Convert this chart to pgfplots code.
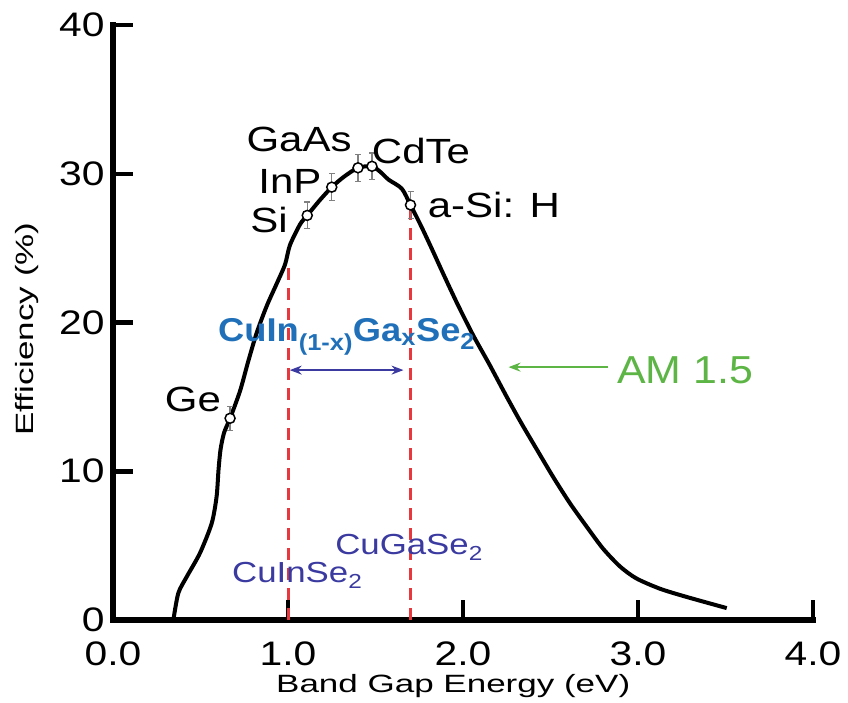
\documentclass[border=0pt]{standalone}
\usepackage{fontspec}
\setmainfont{Liberation Sans}
\newfontfamily\tickfont[FakeStretch=1.2]{Liberation Sans}
\newfontfamily\labfont[FakeStretch=1.4]{Liberation Sans}
\newfontfamily\amfont[FakeStretch=1.1]{Liberation Sans}
\usepackage{pgfplots}
\pgfplotsset{compat=1.18}
\usetikzlibrary{arrows.meta}
\definecolor{cigsblue}{HTML}{1F70B8}
\definecolor{cuindigo}{HTML}{3A3AA0}
\definecolor{amgreen}{HTML}{5DB546}
\definecolor{dashred}{HTML}{E8383D}

\begin{document}
\begin{tikzpicture}
\useasboundingbox (0,0) rectangle (848pt,702pt);
\begin{axis}[
  at={(113pt,82pt)}, anchor=south west,
  scale only axis, width=700pt, height=595pt,
  xmin=0, xmax=4, ymin=0, ymax=40,
  clip=false,
  axis lines*=left,
  axis line style={line width=6pt, line cap=rect},
  tick align=inside,
  major tick length=20pt,
  tick style={line width=4.5pt, black},
  xtick={0,1,2,3,4},
  ytick={0,10,20,30,40},
  /pgf/number format/assume math mode=true,
  tick label style={font=\tickfont\fontsize{34}{36}\selectfont},
  xticklabel style={/pgf/number format/fixed, /pgf/number format/fixed zerofill, /pgf/number format/precision=1, yshift=-18pt},
  yticklabel style={xshift=-5pt},
  xlabel={Band Gap Energy (eV)},
  ylabel={Efficiency (\%)},
  label style={font=\labfont\fontsize{25}{28}\selectfont},
  xlabel style={at={(axis description cs:0.486,0)}, anchor=base, yshift=-72pt},
  ylabel style={at={(axis description cs:-0.114,0.489)}, anchor=base, rotate=0},
]
% red dashed lines
\addplot[dashred, line width=3pt, dash pattern=on 12pt off 8pt] coordinates {(1.0,0) (1.0,23.9)};
\addplot[dashred, line width=3pt, dash pattern=on 12pt off 8pt] coordinates {(1.7,0) (1.7,27.9)};
% efficiency curve
\addplot[black, line width=4pt, smooth, tension=0.45] coordinates {
(0.345,0) (0.373,1.8) (0.421,2.9) (0.497,4.5) (0.564,6.5) (0.592,8.3)
(0.603,10.1) (0.615,11.5) (0.635,12.6) (0.669,13.56) (0.726,15.4)
(0.773,17.4) (0.821,19.3) (0.878,21.1) (0.935,22.6) (0.983,23.9)
(1.011,25.2) (1.069,26.6) (1.11,27.2) (1.18,28.2) (1.25,29.1) (1.32,29.8)
(1.40,30.4) (1.48,30.5) (1.53,30.1) (1.575,29.6) (1.65,29.0) (1.70,27.9)
(1.76,26.5) (1.82,25.0) (1.89,23.2) (1.97,21.2) (2.06,19.1) (2.15,17.2)
(2.25,15.0) (2.33,13.3) (2.42,11.5) (2.516,9.6) (2.611,7.85) (2.707,6.27)
(2.80,4.8) (2.897,3.6) (2.99,2.8) (3.126,2.1) (3.278,1.55) (3.507,0.8)};
% material points
\addplot[only marks, mark=*, mark size=5pt,
  mark options={fill=white, draw=black, line width=1.5pt},
  error bars/.cd, y dir=both, y explicit,
  error bar style={gray, line width=1.2pt},
  error mark options={gray, line width=1.2pt, mark size=3pt, rotate=90}]
  coordinates {
  (0.669,13.56) +- (0,0.8)
  (1.11,27.2) +- (0,0.9)
  (1.25,29.1) +- (0,0.9)
  (1.40,30.4) +- (0,0.9)
  (1.48,30.5) +- (0,0.9)
  (1.70,27.9) +- (0,0.9)};
% blue double arrow
\addplot[cuindigo, line width=1.6pt, {Stealth[length=12pt,width=9pt]}-{Stealth[length=12pt,width=9pt]}]
  coordinates {(1.01,16.8) (1.66,16.8)};
% green arrow
\addplot[amgreen, line width=2pt, -{Stealth[length=12pt,width=9pt]}]
  coordinates {(2.83,17.0) (2.26,17.0)};
% labels
\node[font=\tickfont\fontsize{35}{38}\selectfont] at (axis cs:0.457,14.86) {Ge};
\node[font=\tickfont\fontsize{35}{38}\selectfont] at (axis cs:0.891,26.9) {Si};
\node[font=\tickfont\fontsize{35}{38}\selectfont] at (axis cs:1.011,29.5) {InP};
\node[font=\tickfont\fontsize{35}{38}\selectfont] at (axis cs:1.063,32.3) {GaAs};
\node[font=\tickfont\fontsize{35}{38}\selectfont] at (axis cs:1.76,31.5) {CdTe};
\node[font=\tickfont\fontsize{35}{38}\selectfont] at (axis cs:2.177,27.9) {a-Si: H};
\node[font=\amfont\fontsize{39}{42}\selectfont, text=amgreen, anchor=base west, inner sep=0pt] at (axis cs:2.88,15.9) {AM 1.5};
\node[font=\amfont\bfseries\fontsize{33}{36}\selectfont, text=cigsblue, anchor=base west, inner sep=0pt] at (axis cs:0.6,18.7) {CuIn\textsubscript{(1-x)}Ga\textsubscript{x}Se\textsubscript{2}};
\node[font=\tickfont\fontsize{29}{32}\selectfont, text=cuindigo, anchor=base west, inner sep=0pt] at (axis cs:0.68,2.49) {CuInSe\textsubscript{2}};
\node[font=\tickfont\fontsize{29}{32}\selectfont, text=cuindigo, anchor=base west, inner sep=0pt] at (axis cs:1.269,4.37) {CuGaSe\textsubscript{2}};
\end{axis}
\end{tikzpicture}
\end{document}
